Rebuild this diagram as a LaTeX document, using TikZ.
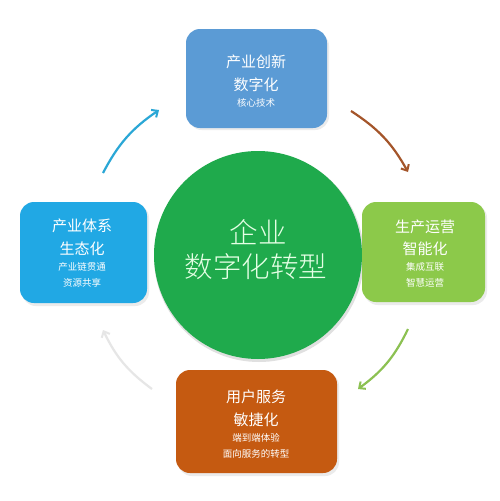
\documentclass[tikz,border=0pt]{standalone}
\usepackage{fontspec}
\newfontfamily\cjk{Noto Sans CJK SC}
\IfFontExistsTF{Noto Sans CJK SC Light}{\newfontfamily\cjklight{Noto Sans CJK SC Light}}{\newfontfamily\cjklight{Noto Sans CJK SC}}
\usetikzlibrary{arrows.meta}
\definecolor{topblue}{HTML}{5B9BD5}
\definecolor{leftblue}{HTML}{21A8E4}
\definecolor{rightgreen}{HTML}{8CC94A}
\definecolor{botorange}{HTML}{C55A11}
\definecolor{circgreen}{HTML}{1FAA4C}
\definecolor{arrblue}{HTML}{2AA7D6}
\definecolor{arrbrown}{HTML}{A4552A}
\definecolor{arrgreen}{HTML}{8CC152}
\definecolor{arrgray}{HTML}{E6E6E6}
\tikzset{
  card/.style={rounded corners=14pt, inner sep=0pt},
  big/.style={text=white, font=\cjk\fontsize{15}{17}\selectfont},
  small/.style={text=white, font=\cjk\fontsize{9.5}{11}\selectfont},
  circtext/.style={text=white!90!green, font=\cjklight\fontsize{28.5}{31}\selectfont},
  curvearrow/.style={line width=2.2pt, -{Straight Barb[length=5pt,width=9pt,line width=2pt]}},
}
\begin{document}
\begin{tikzpicture}[x=1pt,y=-1pt]
\useasboundingbox (0,0) rectangle (500,501);
\fill[white] (0,0) rectangle (500,501);
% central circle
\fill[black!12] (259,257) circle (105);
\fill[circgreen] (258,255) circle (104);
\node[circtext] (c1) at (258,232) {企业};
\node[circtext] (c2) at (256,267) {数字化转型};
% boxes
\fill[black!8, card] (188,32) rectangle (329,130);
\fill[topblue, card] (186,29) rectangle (327,128);
\fill[black!8, card] (364,204) rectangle (487,305);
\fill[rightgreen, card] (362,202) rectangle (485,302);
\fill[black!8, card] (22,204) rectangle (149,306);
\fill[leftblue, card] (20,202) rectangle (147,303);
\fill[black!8, card] (178,372) rectangle (339,476);
\fill[botorange, card] (176,370) rectangle (337,473);
% top box text
\node[big] (t1) at (256,62) {产业创新};
\node[big] (t2) at (256,85) {数字化};
\node[small] (t3) at (256,103) {核心技术};
% right box text
\node[big] (r1) at (425,227) {生产运营};
\node[big] (r2) at (425,249) {智能化};
\node[small] (r3) at (425,267) {集成互联};
\node[small] (r4) at (425,283) {智慧运营};
% left box text
\node[big] (l1) at (82,226) {产业体系};
\node[big] (l2) at (82,249) {生态化};
\node[small] (l3) at (82,267) {产业链贯通};
\node[small] (l4) at (82,283) {资源共享};
% bottom box text
\node[big] (b1) at (256,397) {用户服务};
\node[big] (b2) at (256,420) {敏捷化};
\node[small] (b3) at (256,438) {端到端体验};
\node[small] (b4) at (256,454) {面向服务的转型};
% arrows
\coordinate (a1s) at (103,173);
\coordinate (a1e) at (159,110);
\coordinate (a2s) at (351,111);
\coordinate (a2e) at (408,172);
\coordinate (a3s) at (408,329);
\coordinate (a3e) at (358,389);
\coordinate (a4s) at (152,389);
\coordinate (a4e) at (103,330);
\draw[curvearrow, arrblue] (a1s) to[bend left=14] (a1e);
\draw[curvearrow, arrbrown] (a2s) to[bend left=14] (a2e);
\draw[curvearrow, arrgreen] (a3s) to[bend left=14] (a3e);
\draw[curvearrow, arrgray] (a4s) to[bend left=14] (a4e);
\end{tikzpicture}
\end{document}
